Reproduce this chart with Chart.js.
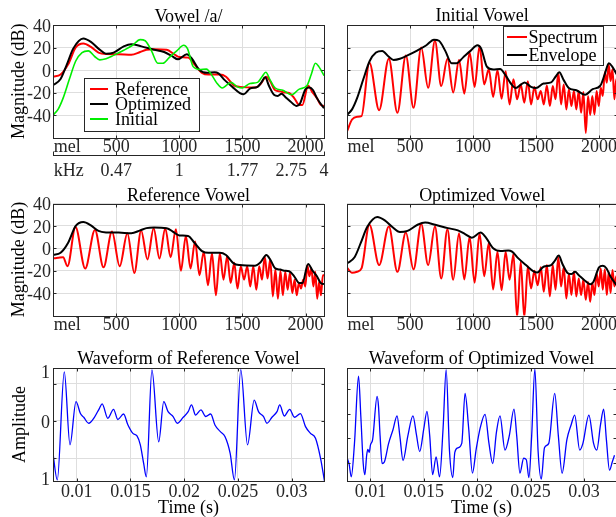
<!DOCTYPE html>
<html>
<head>
<meta charset="utf-8">
<title>Vowel /a/</title>
<script src="https://cdn.jsdelivr.net/npm/chart.js@4.4.1/dist/chart.umd.min.js"></script>
<style>
  html, body { margin: 0; padding: 0; background: #fff; }
  body { position: relative; width: 616px; height: 517px; overflow: hidden; }
  canvas { position: absolute; }
</style>
</head>
<body>
<canvas id="vowel" width="330" height="180" style="left:0;top:0"></canvas>
<canvas id="initial" width="330" height="160" style="left:300px;top:0"></canvas>
<canvas id="reference" width="330" height="155" style="left:0;top:180px"></canvas>
<canvas id="optimized" width="330" height="155" style="left:300px;top:180px"></canvas>
<canvas id="waveRef" width="330" height="187" style="left:0;top:330px"></canvas>
<canvas id="waveOpt" width="330" height="187" style="left:300px;top:330px"></canvas>
<script>
// axes
var melMax = 2146;
var melTicks = [112, 500, 1000, 1500, 2000];
var melLabels = ['mel', '500', '1000', '1500', '2000'];
var khzTicks = [0, 125, 500, 1000, 1500, 1886, 2000, 2146];
var khzLabels = ['', 'kHz', '0.47', '1', '1.77', '2.75', '', '4'];
var khzMark = [true, false, true, true, true, false, true, true];
var dbTicks = [-40, -20, 0, 20, 40];

var tMin = 0.0078, tMax = 0.033;
var timeTicks = [0.01, 0.015, 0.02, 0.025, 0.03];
var timeLabels = ['0.01', '0.015', '0.02', '0.025', '0.03'];
var aMin = -0.805, aMax = 0.711;
var ampTicks = [-0.765, -0.5, 0, 0.5, 0.67];
var ampLabels = ['1', '', '0', '', '1'];
var ampGrid = [false, true, true, true, false];
var optAmpMarks = [0.43, 0.09, -0.23, -0.56];

// spectral envelopes (mel, dB)
var envRefMel = [0, 60, 120, 180, 240, 300, 360, 420, 520, 620, 690, 740, 800, 900, 960, 1000, 1070, 1120, 1180, 1230, 1320, 1370, 1430, 1480, 1600, 1640, 1690, 1720, 1760, 1800, 1830, 1870, 1910, 1950, 1975, 2020, 2055, 2090, 2120, 2146];
var envRefDb = [-6, -4, 5, 20, 23.5, 20.5, 15.5, 14.2, 14, 13.5, 16, 18, 18.5, 18, 14, 11.5, 11, 5, -2.5, -4, -4, -6, -13.5, -15, -15.5, -13, -6, -10, -18, -19, -20, -20.5, -25, -31, -31, -14, -20, -25, -31, -32];

var envOptMel = [0, 60, 110, 160, 240, 300, 360, 420, 480, 560, 620, 700, 800, 880, 940, 990, 1060, 1100, 1160, 1220, 1280, 1310, 1360, 1420, 1480, 1510, 1560, 1620, 1650, 1680, 1710, 1750, 1780, 1810, 1840, 1880, 1930, 1955, 2000, 2030, 2060, 2090, 2146];
var envOptDb = [-13.5, -8, 5, 19, 28, 25, 19, 14.5, 15.5, 21, 23, 21, 18, 16, 12.5, 9.5, 14, 10, 0, -2.5, -2, -3, -9, -15, -20.5, -21.5, -16.5, -15, -11, -6.5, -14, -22, -23, -21, -24, -28, -32, -30, -17, -15.5, -18, -25, -34];

var envInitMel = [0, 40, 80, 130, 180, 230, 280, 330, 370, 420, 480, 560, 630, 690, 730, 780, 830, 870, 920, 980, 1035, 1065, 1110, 1160, 1215, 1260, 1300, 1340, 1380, 1410, 1460, 1500, 1560, 1620, 1655, 1685, 1720, 1760, 1820, 1890, 1950, 2010, 2045, 2078, 2105, 2146];
var envInitDb = [-40, -35, -25, -8, 8, 15.5, 17, 12, 9, 10, 13, 17.5, 22, 27, 26, 17, 6, 6, 11, 17, 22, 19, 3, 0.5, 0.8, -5, -12, -16, -13, -11, -15, -16, -12, -11, -6, -2, -9, -16, -18, -22, -17, -14, -4, 6, 3, -5];

// harmonic spectra (peaks and valleys, mel / dB)
var specMel = [0, 40, 80, 115, 178, 255, 332, 400, 467, 528, 589, 644, 698, 748, 797, 843, 889, 931, 973, 1013, 1052, 1089, 1125, 1160, 1194, 1227, 1259, 1290, 1321, 1350, 1379, 1407, 1435, 1461, 1487, 1513, 1538, 1562, 1586, 1610, 1633, 1655, 1677, 1699, 1720, 1741, 1761, 1781, 1801, 1820, 1839, 1858, 1876, 1895, 1913, 1930, 1947, 1964, 1981, 1998, 2014, 2030, 2046, 2062, 2077, 2092, 2107, 2122, 2137, 2146];
var specRefDb = [-9, -8.5, -8, -16,
  19, -18, 16.4, -17, 15, -16, 13.4, -22, 16, -10,
  18, -9, 18, -8, 17, -20, 11, -18, 6, -24,
  -3, -33, -4.5, -42, -4.5, -28, -7, -31, -13, -36,
  -16, -28, -16, -34, -16, -37, -16, -28, -7.5, -27,
  -10, -43, -19, -45, -20, -42, -21, -37, -22, -40,
  -28, -42, -31, -36, -28, -34, -15, -25, -18, -34,
  -21, -45, -30, -42, -24, -24];
var specInitDb = [-54.5, -44, -41.5, -41,
  6.5, -35.7, 10, -38, 13, -33.6, 20, -15.8, 26, -14.3,
  10, -20, 9, -21, 15.5, -15, 21.4, -12.8, 0.6, -24,
  0, -25.6, -1, -30.6, -8.3, -26, -12.8, -29, -10, -30.6,
  -15, -26, -18.7, -30.6, -13.7, -32, -14.3, -26, -2.4, -30.6,
  -12.8, -35, -17, -32, -18.7, -35, -18.7, -38, -19.6, -56,
  -23, -40, -23, -39.6, -18.7, -32, -15.8, -23, -1.8, -11.3,
  5, -9.8, 0.6, -26, -8, -10];
var specOptDb = [-17.3, -21.8, -21, -18,
  21, -15, 19.4, -21, 14, -18.8, 21.8, -15, 19.4, -27,
  17, -28, 13.4, -27.8, 10, -30.7, 13.4, -25, 4.5, -36.7,
  -3, -37.3, -3, -28, -5, -62, -12, -62, -16, -35.8,
  -20, -33, -17, -38.8, -15, -43, -15, -37, -8, -34,
  -17, -44.8, -22.4, -41.8, -21, -43, -27, -41.8, -27.8, -46,
  -30, -47.8, -31, -41.8, -22.4, -34, -18, -37, -18.8, -41.8,
  -21, -40, -19.4, -34, -25, -28];

// waveforms (s, amplitude)
var waveRefT = [0.00776, 0.0082, 0.00885, 0.00938, 0.00994, 0.01035, 0.01066, 0.01112, 0.01165, 0.01212,
  0.01237, 0.0129, 0.01343, 0.01383, 0.01436, 0.01476, 0.01523, 0.01561, 0.01592, 0.01623,
  0.01648, 0.017, 0.01763, 0.0181, 0.0185, 0.01897, 0.01935, 0.01991, 0.02037, 0.02068,
  0.02106, 0.02156, 0.022, 0.02246, 0.02286, 0.02334, 0.0238, 0.02427, 0.02467, 0.02526,
  0.02589, 0.02651, 0.02691, 0.02738, 0.02769, 0.02816, 0.02863, 0.02888, 0.02931, 0.02981,
  0.03025, 0.03081, 0.03128, 0.03174, 0.03221, 0.03268, 0.03305];
var waveRefA = [-0.39, -0.79, 0.66, -0.32, 0.26, 0.1, 0.05, -0.03, 0.05, 0.17,
  0.23, 0.036, 0.157, 0.02, 0.094, -0.05, -0.166, -0.2, -0.32, -0.57,
  -0.75, 0.685, -0.28, 0.26, 0.125, 0.06, -0.03, 0.05, 0.125, 0.215,
  0.08, 0.148, 0.06, 0.094, -0.054, -0.14, -0.21, -0.43, -0.79, 0.69,
  -0.32, 0.28, 0.125, 0.06, -0.03, 0.05, 0.125, 0.215, 0.067, 0.157,
  0.05, 0.1, -0.076, -0.166, -0.23, -0.5, -0.81];
var waveOptT = [0.00782, 0.008, 0.0082, 0.0085, 0.00888, 0.0091, 0.00932, 0.00947, 0.00965, 0.00975,
  0.00988, 0.01, 0.0102, 0.01062, 0.01075, 0.0109, 0.01109, 0.0113, 0.0117, 0.0121,
  0.01249, 0.01275, 0.01305, 0.0135, 0.01398, 0.0143, 0.01461, 0.015, 0.01529, 0.01555,
  0.01582, 0.01615, 0.01647, 0.0168, 0.01709, 0.0174, 0.01771, 0.0179, 0.0182, 0.01855,
  0.01886, 0.0192, 0.01955, 0.0199, 0.0203, 0.02073, 0.0211, 0.02145, 0.0218, 0.02213,
  0.0226, 0.023, 0.02344, 0.0237, 0.024, 0.02435, 0.0246, 0.02484, 0.0251, 0.0254,
  0.0257, 0.026, 0.0263, 0.0267, 0.02726, 0.0276, 0.02795, 0.0284, 0.0288, 0.02913,
  0.0296, 0.0299, 0.03046, 0.0309, 0.0312, 0.03155, 0.03184, 0.0321, 0.03239, 0.03265, 0.03286];
var waveOptA = [-0.5, -0.58, -0.75, -0.3, 0.6, 0.05, -0.57, -0.72, -0.45, -0.38,
  -0.42, -0.32, -0.25, 0.33, 0.2, -0.2, -0.57, -0.55, -0.3, -0.12,
  0.07, -0.2, -0.53, -0.2, 0.07, -0.18, -0.41, -0.1, 0.13, -0.2,
  -0.72, -0.48, -0.75, -0.1, 0.69, -0.4, -0.76, -0.42, -0.36, -0.3,
  0.37, -0.1, -0.7, -0.38, -0.08, 0.09, -0.3, -0.57, -0.15, 0.07,
  -0.39, -0.2, 0.16, -0.2, -0.7, -0.5, -0.52, -0.76, -0.2, 0.7,
  -0.4, -0.78, -0.36, -0.3, 0.37, -0.2, -0.7, -0.25, -0.05, 0.08,
  -0.39, -0.3, 0.08, -0.3, -0.39, -0.05, 0.16, -0.25, -0.66, -0.55, -0.46];

Chart.defaults.font.family = '"Liberation Serif", "Times New Roman", serif';
Chart.defaults.font.size = 18;
Chart.defaults.font.lineHeight = 1;
Chart.defaults.color = '#262626';

var gridColor = '#dedede';
var clear = 'rgba(0,0,0,0)';

function pts(xs, ys) {
  return xs.map(function (x, i) { return { x: x, y: ys[i] }; });
}
function setTicks(values) {
  return function (scale) {
    scale.ticks = values.map(function (v) { return { value: v }; });
  };
}
// fixed axis size, and no extra room asked for edge labels
function fixSize(prop, val) {
  return function (s) {
    s[prop] = val;
    s.paddingLeft = s.paddingRight = s.paddingTop = s.paddingBottom = 0;
  };
}
function curve(label, xs, ys, color, width) {
  return { label: label, data: pts(xs, ys), borderColor: color, borderWidth: width,
    pointRadius: 0, cubicInterpolationMode: 'monotone' };
}

// box round the plot with small inward ticks
var frame = {
  id: 'frame',
  afterDatasetsDraw: function (chart, args, o) {
    var ctx = chart.ctx, a = chart.chartArea;
    var xs = chart.scales.x, ys = chart.scales.y;
    var l = Math.round(a.left) + 0.5, r = Math.round(a.right) + 0.5;
    var t = Math.round(a.top) + 0.5, b = Math.round(a.bottom) + 0.5;
    ctx.save();
    ctx.strokeStyle = '#262626';
    ctx.lineWidth = 1;
    ctx.beginPath();
    (o.x || []).forEach(function (v) {
      var px = Math.round(xs.getPixelForValue(v)) + 0.5;
      ctx.moveTo(px, t); ctx.lineTo(px, t + 3);
      ctx.moveTo(px, b); ctx.lineTo(px, b - 3);
    });
    (o.y || []).forEach(function (v) {
      var py = Math.round(ys.getPixelForValue(v)) + 0.5;
      ctx.moveTo(l, py); ctx.lineTo(l + 3, py);
      ctx.moveTo(r, py); ctx.lineTo(r - 3, py);
    });
    ctx.stroke();
    ctx.strokeRect(l, t, r - l, b - t);
    ctx.restore();
  }
};

// legend drawn inside the plot, matlab style
var boxLegend = {
  id: 'boxLegend',
  afterDatasetsDraw: function (chart, args, o) {
    if (!o.items) return;
    var ctx = chart.ctx, a = chart.chartArea;
    var x = Math.round(a.left + o.x), y = Math.round(a.top + o.y);
    ctx.save();
    ctx.fillStyle = '#fff';
    ctx.fillRect(x, y, o.w, o.h);
    ctx.strokeStyle = '#262626';
    ctx.lineWidth = 1;
    ctx.strokeRect(x + 0.5, y + 0.5, o.w, o.h);
    ctx.font = '18px "Liberation Serif", serif';
    ctx.textBaseline = 'middle';
    o.items.forEach(function (i, k) {
      var ds = chart.data.datasets[i];
      var cy = y + o.first + k * o.step;
      ctx.strokeStyle = ds.borderColor;
      ctx.lineWidth = 2;
      ctx.beginPath();
      ctx.moveTo(x + o.lineX, cy);
      ctx.lineTo(x + o.lineX + o.lineW, cy);
      ctx.stroke();
      ctx.fillStyle = '#000';
      ctx.fillText(ds.label, x + o.textX, cy + 1.5);
    });
    ctx.restore();
  }
};

function melChart(id, o) {
  var scales = {
    x: {
      type: 'linear', min: 0, max: melMax, weight: 0,
      afterBuildTicks: setTicks(melTicks),
      afterFit: fixSize('height', o.xh),
      ticks: { callback: function (v, i) { return melLabels[i]; }, padding: 1, maxRotation: 0, autoSkip: false },
      grid: { color: function (c) { return c.index === 0 ? clear : gridColor; }, drawTicks: false },
      border: { display: false }
    },
    y: {
      min: -60, max: 40,
      afterBuildTicks: setTicks(dbTicks),
      afterFit: fixSize('width', o.yw),
      ticks: { display: o.labels, padding: 2, labelOffset: 2 },
      grid: { color: gridColor, drawTicks: false },
      border: { display: false },
      title: { display: o.labels, text: 'Magnitude (dB)', color: '#000', padding: { top: 10 } }
    }
  };
  if (o.khz) {
    scales.khz = {
      type: 'linear', position: 'bottom', weight: 1, min: 0, max: melMax,
      afterBuildTicks: setTicks(khzTicks),
      afterFit: fixSize('height', o.khz),
      ticks: { callback: function (v, i) { return khzLabels[i]; }, padding: 10.5, maxRotation: 0, autoSkip: false },
      grid: { drawOnChartArea: false, tickLength: -4,
        tickColor: function (c) { return khzMark[c.index] ? '#262626' : clear; } },
      border: { display: true, color: '#262626' }
    };
  }
  return new Chart(document.getElementById(id), {
    type: 'line',
    data: { datasets: o.datasets },
    options: {
      responsive: false, animation: false, events: [],
      layout: { padding: { right: o.padRight } },
      scales: scales,
      plugins: {
        legend: { display: false },
        tooltip: { enabled: false },
        title: { display: true, text: o.title, fullSize: false, color: '#000',
          font: { weight: 'normal' }, padding: o.titlePad },
        frame: { x: melTicks.slice(1), y: dbTicks },
        boxLegend: o.legend || {}
      }
    },
    plugins: [frame, boxLegend]
  });
}

function waveChart(id, o) {
  return new Chart(document.getElementById(id), {
    type: 'line',
    data: { datasets: [curve('Waveform', o.t, o.a, '#0000ff', 1.3)] },
    options: {
      responsive: false, animation: false, events: [],
      layout: { padding: { right: o.padRight } },
      scales: {
        x: {
          type: 'linear', min: tMin, max: tMax,
          afterBuildTicks: setTicks(timeTicks),
          afterFit: fixSize('height', 36),
          ticks: { callback: function (v, i) { return timeLabels[i]; }, padding: 2, maxRotation: 0, autoSkip: false },
          grid: { color: gridColor, drawTicks: false },
          border: { display: false },
          title: { display: true, text: 'Time (s)', color: '#000', padding: { top: 0, bottom: 0 } }
        },
        y: {
          min: aMin, max: aMax,
          afterBuildTicks: setTicks(ampTicks),
          afterFit: fixSize('width', o.yw),
          ticks: { display: o.labels, callback: function (v, i) { return ampLabels[i]; }, padding: 3, labelOffset: 2 },
          grid: { color: function (c) { return ampGrid[c.index] ? gridColor : clear; }, drawTicks: false },
          border: { display: false },
          title: { display: o.labels, text: 'Amplitude', color: '#000', padding: { top: 11 } }
        }
      },
      plugins: {
        legend: { display: false },
        tooltip: { enabled: false },
        title: { display: true, text: o.title, fullSize: false, color: '#000',
          font: { weight: 'normal' }, padding: { top: 20, bottom: 0 } },
        frame: { x: timeTicks, y: o.marks }
      }
    },
    plugins: [frame]
  });
}

melChart('vowel', {
  title: 'Vowel /a/', titlePad: { top: 8, bottom: -1 },
  yw: 53, padRight: 6, xh: 18, khz: 24.5, labels: true,
  datasets: [
    curve('Initial', envInitMel, envInitDb, '#00ee00', 1.6),
    curve('Optimized', envOptMel, envOptDb, '#000000', 2),
    curve('Reference', envRefMel, envRefDb, '#ff0000', 2)
  ],
  legend: { x: 31, y: 53, w: 115, h: 53, first: 11, step: 15, lineX: 6, lineW: 18, textX: 31, items: [2, 1, 0] }
});

melChart('initial', {
  title: 'Initial Vowel', titlePad: { top: 7, bottom: 0 },
  yw: 47, padRight: 12.6, xh: 22.5, labels: false,
  datasets: [
    curve('Envelope', envInitMel, envInitDb, '#000000', 2),
    curve('Spectrum', specMel, specInitDb, '#ff0000', 2)
  ],
  legend: { x: 156, y: 1, w: 100, h: 39, first: 11, step: 18, lineX: 4, lineW: 20, textX: 25.5, items: [1, 0] }
});

melChart('reference', {
  title: 'Reference Vowel', titlePad: { top: 7, bottom: -1.5 },
  yw: 53, padRight: 6, xh: 19.5, labels: true,
  datasets: [
    curve('Envelope', envRefMel, envRefDb, '#000000', 2),
    curve('Spectrum', specMel, specRefDb, '#ff0000', 2)
  ]
});

melChart('optimized', {
  title: 'Optimized Vowel', titlePad: { top: 7, bottom: -1.5 },
  yw: 47, padRight: 12.6, xh: 19.5, labels: false,
  datasets: [
    curve('Envelope', envOptMel, envOptDb, '#000000', 2),
    curve('Spectrum', specMel, specOptDb, '#ff0000', 2)
  ]
});

waveChart('waveRef', {
  title: 'Waveform of Reference Vowel', t: waveRefT, a: waveRefA,
  yw: 53, padRight: 6, labels: true, marks: [-0.5, 0, 0.5]
});

waveChart('waveOpt', {
  title: 'Waveform of Optimized Vowel', t: waveOptT, a: waveOptA,
  yw: 47, padRight: 14, labels: false, marks: optAmpMarks
});
</script>
</body>
</html>
